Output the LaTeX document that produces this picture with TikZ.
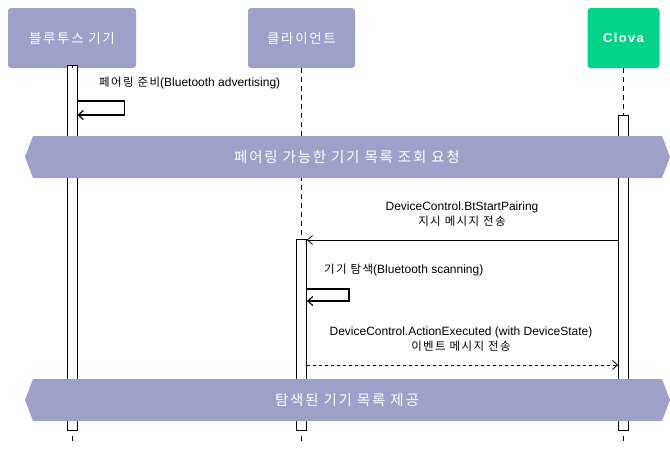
\documentclass[tikz,border=0pt]{standalone}
\usepackage{fontspec}
\setmainfont{Liberation Sans}
\newfontfamily\kr[LetterSpace=12]{Noto Sans CJK KR}
\newfontfamily\clovafont[LetterSpace=10]{Liberation Sans}
\usetikzlibrary{arrows.meta}
\definecolor{actorblue}{RGB}{159,160,202}
\definecolor{clovagreen}{RGB}{6,211,138}

\tikzset{
  actor/.style={rectangle, rounded corners=3pt, fill=actorblue, text=white,
    minimum height=60pt, inner sep=0pt, font=\fontsize{13.5}{15}\selectfont},
  actbar/.style={draw, fill=white, line width=0.8pt, minimum width=10pt, inner sep=0pt},
  life/.style={line width=0.8pt, dash pattern=on 5pt off 4pt},
  msg/.style={line width=0.8pt, -{Straight Barb[length=5pt,width=9pt]}},
  selfmsg/.style={line width=1.2pt, -{Straight Barb[length=5pt,width=9pt]}},
  lbl/.style={inner sep=0pt, align=center, font=\fontsize{12}{15}\selectfont},
  banner/.style={fill=actorblue},
  bannertext/.style={text=white, inner sep=0pt, font=\fontsize{14.5}{16}\selectfont},
}
\newcommand{\krlbl}[1]{{\fontsize{11.5}{15}\selectfont\kr #1}}

\begin{document}
\begin{tikzpicture}[x=1pt,y=-1pt]
\useasboundingbox (0,0) rectangle (670,450);

% participants
\node[actor, minimum width=128pt] (dev) at (72,38) {\kr 블루투스 기기};
\node[actor, minimum width=107pt] (cli) at (301.5,38) {\kr 클라이언트};
\node[actor, fill=clovagreen, minimum width=72pt, font=\fontsize{13}{14}\clovafont\bfseries] (clova) at (623.5,38) {Clova};

% activation bars
\node[actbar, minimum height=365pt] (devbar) at (72,247.5) {};
\node[actbar, minimum height=191pt] (clibar) at (301.5,334.5) {};
\node[actbar, minimum height=315pt] (clovabar) at (623.5,272.5) {};

% lifelines
\draw[life] (dev.south) -- (devbar.north);
\draw[life] (cli.south) -- (clibar.north);
\draw[life] (clova.south) -- (clovabar.north);
\draw[life] ([yshift=-6pt]devbar.south) -- ++(0,5);
\draw[life] ([yshift=-6pt]clibar.south) -- ++(0,5);
\draw[life] ([yshift=-6pt]clovabar.south) -- ++(0,5);

% pairing ready (self)
\coordinate (adv) at (devbar.east |- 0,101);
\draw[selfmsg] (adv) -- ++(47,0) -- ++(0,14) -- ++(-47,0);
\node[lbl, anchor=west] (advlbl) at (99,83) {\krlbl{페어링 준비}(Bluetooth advertising)};

% banner 1
\fill[banner] (25,157) -- (33,136) -- (662,136) -- (670,157) -- (662,178) -- (33,178) -- cycle;
\node[bannertext] (req) at (347,157) {\kr 페어링 가능한 기기 목록 조회 요청};

% BtStartPairing
\draw[msg] (clovabar.west |- 0,240) -- (clibar.east |- 0,240);
\node[lbl] (pairlbl) at (462,214) {DeviceControl.BtStartPairing\\\krlbl{지시 메시지 전송}};

% scanning (self)
\coordinate (scan) at (clibar.east |- 0,289);
\draw[selfmsg] (scan) -- ++(42,0) -- ++(0,12) -- ++(-42,0);
\node[lbl, anchor=west] (scanlbl) at (324,270) {\krlbl{기기 탐색}(Bluetooth scanning)};

% ActionExecuted
\draw[msg, dashed] (clibar.east |- 0,365) -- (clovabar.west |- 0,365);
\node[lbl] (execlbl) at (461,339.5) {DeviceControl.ActionExecuted (with DeviceState)\\\krlbl{이벤트 메시지 전송}};

% banner 2
\fill[banner] (25,400) -- (33,379) -- (662,379) -- (670,400) -- (662,421) -- (33,421) -- cycle;
\node[bannertext] (list) at (347,400) {\kr 탐색된 기기 목록 제공};

\end{tikzpicture}
\end{document}
